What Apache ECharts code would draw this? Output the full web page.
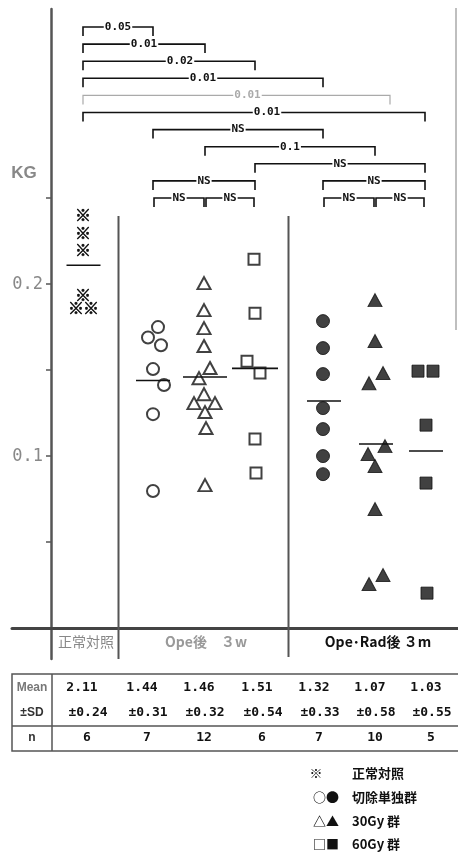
<!DOCTYPE html>
<html><head><meta charset="utf-8">
<script src="https://cdn.jsdelivr.net/npm/echarts@6/dist/echarts.min.js"></script>
<style>html,body{margin:0;padding:0;background:#fff}#c{width:458px;height:854px}</style>
</head><body><div id="c"></div>
<script>
// ---------- data ----------
const groupNames = ['正常対照', '切除単独群 3w', '30Gy群 3w', '60Gy群 3w', '切除単独群 3m', '30Gy群 3m', '60Gy群 3m'];
const ctrlValues   = [0.240, 0.230, 0.220, 0.194, 0.186, 0.186];
const opeCircle    = [0.175, 0.169, 0.1645, 0.1506, 0.1413, 0.1244, 0.0797];
const opeTriangle  = [0.2006, 0.1849, 0.1744, 0.164, 0.1512, 0.1453, 0.136, 0.1308, 0.1308, 0.1256, 0.1163, 0.0831];
const opeSquare    = [0.2145, 0.1831, 0.1552, 0.1483, 0.1099, 0.0901];
const radCircle    = [0.1785, 0.1628, 0.1477, 0.1279, 0.1157, 0.100, 0.0895];
const radTriangle  = [0.1907, 0.1669, 0.1483, 0.1424, 0.1058, 0.1012, 0.0942, 0.0692, 0.0256, 0.0308];
const radSquare    = [0.1494, 0.1494, 0.118, 0.0843, 0.0203];
const meanValues   = [2.11, 1.44, 1.46, 1.51, 1.32, 1.07, 1.03];   // ×10^-1 KG
const sdValues     = ['±0.24', '±0.31', '±0.32', '±0.54', '±0.33', '±0.58', '±0.55'];
const nValues      = [6, 7, 12, 6, 7, 10, 5];
const yTickValues  = [0.05, 0.1, 0.15, 0.2, 0.25];
const yLabelValues = [0.1, 0.2];
const periodLabels = ['正常対照', 'Ope後　３w', 'Ope･Rad後 ３m'];
const bracketFrom  = [0, 0, 0, 0, 0, 0, 1, 2, 3, 1, 4, 1, 2, 4, 5];
const bracketTo    = [1, 2, 3, 4, 5.3, 6, 4, 5, 6, 3, 6, 2, 3, 5, 6];
const bracketLevel = [0, 1, 2, 3, 4, 5, 6, 7, 8, 9, 9, 10, 10, 10, 10];
const bracketLabel = ['0.05', '0.01', '0.02', '0.01', '0.01', '0.01', 'NS', '0.1', 'NS', 'NS', 'NS', 'NS', 'NS', 'NS', 'NS'];
const legendLabels = ['正常対照', '切除単独群', '30Gy 群', '60Gy 群'];
const legendSymbols = ['※', '○●', '△▲', '□■'];

// ---------- layout (not data) ----------
const groupX = [32, 102, 154, 204, 272, 324, 374];
const ctrlJit = [0, 0, 0, 0, -7, 8];
const opeCircleJit = [5, -5, 8, 0, 11, 0, 0];
const opeTriJit = [-1, -1, -1, -1, 5, -6, -1, -11, 10, 0, 1, 0];
const opeSqJit = [-1, 0, -8, 5, 0, 1];
const radCircleJit = [0, 0, 0, 0, 0, 0, 0];
const radTriJit = [0, 0, 8, -6, 10, -7, 0, 0, -6, 8];
const radSqJit = [-7, 8, 1, 1, 2];
const meanCx = [32.5, 102, 154, 204, 273, 325, 375];
const meanHalf = [17, 17, 22, 23, 17, 17, 17];
const labelShift = [0, 0, 11, 0, 11, 13, 0, 0, 0, 0, 0, 0, 0, 0, 0];

const numFont = '"DejaVu Sans Mono", monospace';
const cjkFont = '"Noto Sans CJK JP", sans-serif';

function pts(vals, gi, jit) { return vals.map((v, i) => [groupX[gi] + jit[i], v]); }
function posOf(f) {
  const i = Math.floor(f), fr = f - i;
  if (fr === 0) return groupX[i];
  return groupX[i] + fr * (groupX[i + 1] - groupX[i]);
}

const openStyle = { color: '#fff', borderColor: '#111', borderWidth: 2 };
const fillStyle = { color: '#111', borderColor: '#111', borderWidth: 1 };

const chart = echarts.init(document.getElementById('c'), null, { renderer: 'canvas' });
const option = {
  animation: false,
  backgroundColor: '#fff',
  grid: { left: 12, right: 0, top: 9, bottom: 195, containLabel: false, outerBoundsMode: 'none' },
  xAxis: {
    type: 'value', min: -39, max: 407,
    axisLine: { show: true, onZero: true, lineStyle: { color: '#444', width: 3 } },
    axisTick: { show: false }, axisLabel: { show: false }, splitLine: { show: false }
  },
  yAxis: {
    type: 'value', min: -0.018, max: 0.36,
    axisLine: { show: true, onZero: true, lineStyle: { color: '#555', width: 2.5 } },
    axisTick: { show: true, customValues: yTickValues, length: 5, lineStyle: { color: '#555', width: 1.5 } },
    axisLabel: { show: false },
    splitLine: { show: false }
  },
  series: [
    { type: 'custom', name: groupNames[0], data: pts(ctrlValues, 0, ctrlJit), clip: false,
      renderItem: (p, api) => {
        const c = api.coord([api.value(0), api.value(1)]);
        return { type: 'text', x: c[0], y: c[1], style: { text: '※', align: 'center', verticalAlign: 'middle',
          font: 'bold 16px ' + cjkFont, fill: '#111', stroke: '#111', lineWidth: 0.6 } };
      } },
    { type: 'scatter', name: groupNames[1], data: pts(opeCircle, 1, opeCircleJit), symbol: 'circle', symbolSize: 12, itemStyle: openStyle },
    { type: 'scatter', name: groupNames[2], data: pts(opeTriangle, 2, opeTriJit), symbol: 'triangle', symbolSize: [13, 12], itemStyle: openStyle },
    { type: 'scatter', name: groupNames[3], data: pts(opeSquare, 3, opeSqJit), symbol: 'rect', symbolSize: 11, itemStyle: openStyle },
    { type: 'scatter', name: groupNames[4], data: pts(radCircle, 4, radCircleJit), symbol: 'circle', symbolSize: 13, itemStyle: fillStyle },
    { type: 'scatter', name: groupNames[5], data: pts(radTriangle, 5, radTriJit), symbol: 'triangle', symbolSize: [14, 13], itemStyle: fillStyle },
    { type: 'scatter', name: groupNames[6], data: pts(radSquare, 6, radSqJit), symbol: 'rect', symbolSize: 12, itemStyle: fillStyle },
    { type: 'custom', name: 'mean', data: meanValues.map((m, i) => [meanCx[i], m / 10]), clip: false, z: 5,
      renderItem: (p, api) => {
        const i = p.dataIndex;
        const a = api.coord([api.value(0) - meanHalf[i], api.value(1)]);
        const b = api.coord([api.value(0) + meanHalf[i], api.value(1)]);
        return { type: 'line', shape: { x1: a[0], y1: a[1], x2: b[0], y2: b[1] }, style: { stroke: '#111', lineWidth: 1.6 } };
      } },
    { type: 'custom', name: 'brackets', data: bracketLabel.map((l, i) => [i]), clip: false, z: 6,
      renderItem: (p, api) => {
        const i = p.dataIndex;
        const gray = i === 4;
        const col = gray ? '#aaa' : '#111';
        const inset = bracketLevel[i] === 10 ? 1 : 0;
        const x1 = api.coord([posOf(bracketFrom[i]), 0])[0] + inset;
        const x2 = api.coord([posOf(bracketTo[i]), 0])[0] - inset;
        const y = 27 + bracketLevel[i] * 17.1;
        return { type: 'group', children: [
          { type: 'polyline', shape: { points: [[x1, y + 9], [x1, y], [x2, y], [x2, y + 9]] },
            style: { stroke: col, lineWidth: gray ? 1.2 : 1.6, fill: null } },
          { type: 'text', x: (x1 + x2) / 2 + labelShift[i], y: y, z2: 10,
            style: { text: bracketLabel[i], align: 'center', verticalAlign: 'middle',
              font: 'bold 11px ' + numFont, fill: col, backgroundColor: '#fff', padding: [0, 1] } }
        ] };
      } }
  ]
};
chart.setOption(option);

// ---------- decorations (frame, axis labels, period labels, table, legend) ----------
const px = v => chart.convertToPixel({ xAxisIndex: 0 }, v);
const py = v => chart.convertToPixel({ yAxisIndex: 0 }, v);
const axisX = px(0);
const divA = (px(groupX[0]) + px(groupX[1])) / 2 + 0.5;
const divB = (px(groupX[3]) + px(groupX[4])) / 2 - 0.5;
const g = [];
function line(x1, y1, x2, y2, stroke, w) { g.push({ type: 'line', shape: { x1, y1, x2, y2 }, style: { stroke, lineWidth: w }, z: 1 }); }
function txt(x, y, text, font, fill, align) {
  g.push({ type: 'text', x, y, style: { text, font, fill, align: align || 'center', verticalAlign: 'middle' }, z: 20 });
}
yLabelValues.forEach(v => txt(axisX - 8, py(v), v.toFixed(1), '17px ' + numFont, '#888', 'right'));
line(divA, 216, divA, 659, '#555', 2);
line(divB, 216, divB, 657, '#555', 2);
line(456, 8, 456, 330, '#aaa', 1.5);
txt(24, 173, 'KG', 'bold 17px "Liberation Sans", sans-serif', '#888');
txt(86, 642, periodLabels[0], '14px ' + cjkFont, '#888');
txt(206, 642, periodLabels[1], 'bold 14px ' + cjkFont, '#999');
txt(378, 642, periodLabels[2], 'bold 14px ' + cjkFont, '#111');

// table
g.push({ type: 'rect', shape: { x: 12, y: 674, width: 460, height: 77 }, style: { fill: null, stroke: '#555', lineWidth: 1.5 }, z: 1 });
line(52, 674, 52, 751, '#555', 1.5);
line(12, 726, 460, 726, '#555', 1.5);
txt(32, 688, 'Mean', 'bold 12px "Liberation Sans", sans-serif', '#777');
txt(32, 713, '±SD', 'bold 12px "Liberation Sans", sans-serif', '#333');
txt(32, 738, 'n', 'bold 12px "Liberation Sans", sans-serif', '#333');
const colX = [88, 148, 205, 263, 320, 376, 432];
meanValues.forEach((m, i) => txt(colX[i] - 6, 688, m.toFixed(2), 'bold 13px ' + numFont, '#111'));
sdValues.forEach((s, i) => txt(colX[i], 713, s, 'bold 13px ' + numFont, '#111'));
nValues.forEach((n, i) => txt(colX[i] - 1, 738, String(n), 'bold 13px ' + numFont, '#111'));

// legend
const legY = [773, 797, 821, 844];
legendSymbols.forEach((s, i) => txt(i === 0 ? 316 : 326, legY[i], s, 'bold 13px ' + cjkFont, '#111'));
legendLabels.forEach((s, i) => txt(352, legY[i], s, 'bold 13px ' + cjkFont, '#111', 'left'));

chart.setOption({ graphic: g });
</script>
</body></html>
